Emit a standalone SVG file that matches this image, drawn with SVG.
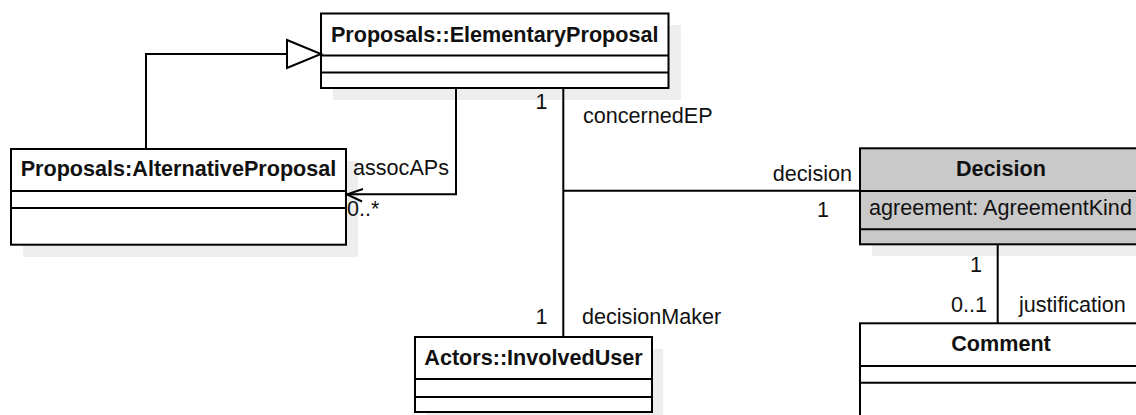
<svg xmlns="http://www.w3.org/2000/svg" width="1136" height="415" viewBox="0 0 1136 415">
<style>
.shadow{fill:#eeeeee;stroke:none}
.box{fill:#ffffff;stroke:#000;stroke-width:2}
.grey{fill:#c9c9c9;stroke:#000;stroke-width:2}
.sep{stroke:#000;stroke-width:2;fill:none}
.line{stroke:#000;stroke-width:2;fill:none}
.title{font-family:"Liberation Sans",Arial,sans-serif;font-weight:bold;font-size:21.6px;fill:#111;text-anchor:middle}
.lbl{font-family:"Liberation Sans",Arial,sans-serif;font-size:21.6px;fill:#111}
</style>
<rect width="1136" height="415" fill="#ffffff"/>
<g id="ElementaryProposal">
<rect class="shadow" x="333" y="25" width="348" height="75"/>
<rect class="box" x="321" y="13.5" width="347.5" height="74.5"/>
<line class="sep" x1="321" y1="55.5" x2="668.5" y2="55.5"/>
<line class="sep" x1="321" y1="72.5" x2="668.5" y2="72.5"/>
<text class="title" x="494.7" y="41.5">Proposals::ElementaryProposal</text>
</g>
<g id="AlternativeProposal">
<rect class="shadow" x="23" y="161" width="335" height="96"/>
<rect class="box" x="11" y="149" width="335" height="95.7"/>
<line class="sep" x1="11" y1="191" x2="346" y2="191"/>
<line class="sep" x1="11" y1="208" x2="346" y2="208"/>
<text class="title" x="178.5" y="176">Proposals:AlternativeProposal</text>
</g>
<g id="InvolvedUser">
<rect class="shadow" x="427" y="349" width="236" height="75"/>
<rect class="box" x="415" y="337" width="237" height="75"/>
<line class="sep" x1="415" y1="379" x2="652" y2="379"/>
<line class="sep" x1="415" y1="397" x2="652" y2="397"/>
<text class="title" x="533.5" y="365">Actors::InvolvedUser</text>
</g>
<g id="Decision">
<rect class="shadow" x="872" y="160" width="282" height="96"/>
<rect class="grey" x="860" y="148.3" width="282" height="96"/>
<line class="sep" x1="860" y1="191" x2="1142" y2="191"/>
<line class="sep" x1="860" y1="229.3" x2="1142" y2="229.3"/>
<text class="title" x="1001" y="175.7">Decision</text>
<text class="lbl" x="869" y="215">agreement: AgreementKind</text>
</g>
<g id="Comment">
<rect class="box" x="860" y="323.3" width="282" height="110"/>
<line class="sep" x1="860" y1="366" x2="1142" y2="366"/>
<line class="sep" x1="860" y1="382.7" x2="1142" y2="382.7"/>
<text class="title" x="1001" y="351">Comment</text>
</g>
<g id="connectors">
<polyline class="line" points="146,149 146,54 287,54"/>
<polygon points="287,40 321,54 287,68" fill="#ffffff" stroke="#000" stroke-width="2"/>
<polyline class="line" points="456,88 456,194.3 347,194.3"/>
<polyline class="line" points="363,189 347,194.3 362,201.5"/>
<line class="line" x1="563.3" y1="88" x2="563.3" y2="337"/>
<line class="line" x1="563.3" y1="190.7" x2="860" y2="190.7"/>
<line class="line" x1="997.7" y1="244.3" x2="997.7" y2="323.3"/>
<text class="lbl" x="353" y="175">assocAPs</text>
<text class="lbl" x="347" y="216">0..*</text>
<text class="lbl" x="541.5" y="109" text-anchor="middle">1</text>
<text class="lbl" x="583" y="122.5">concernedEP</text>
<text class="lbl" x="852" y="181" text-anchor="end">decision</text>
<text class="lbl" x="823" y="216.7" text-anchor="middle">1</text>
<text class="lbl" x="541.5" y="324" text-anchor="middle">1</text>
<text class="lbl" x="582" y="324">decisionMaker</text>
<text class="lbl" x="976" y="272" text-anchor="middle">1</text>
<text class="lbl" x="987" y="312" text-anchor="end">0..1</text>
<text class="lbl" x="1019" y="312">justification</text>
</g>
</svg>
